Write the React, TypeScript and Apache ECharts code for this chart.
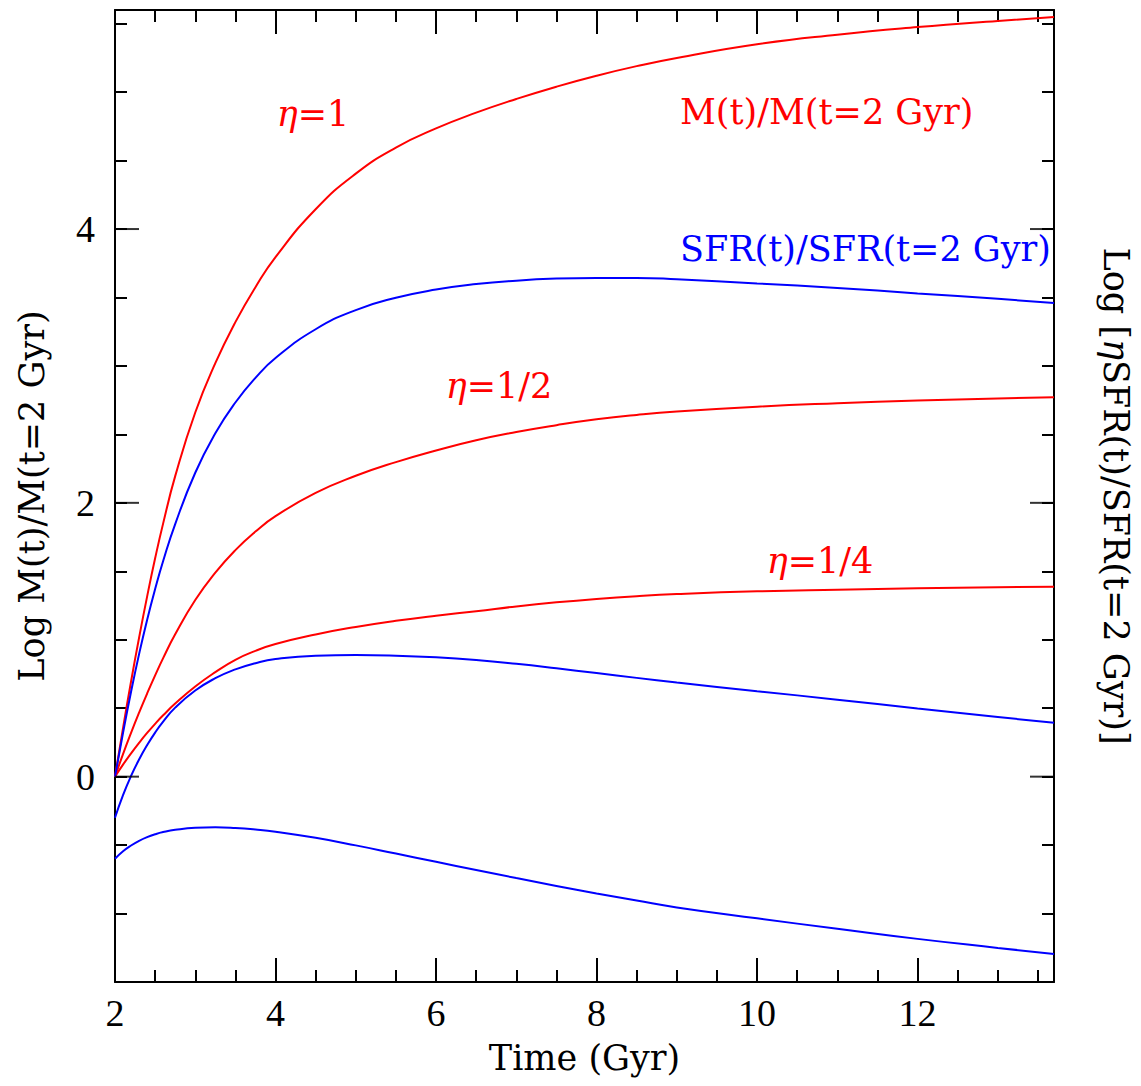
import React, { useEffect, useRef } from "react";
import * as echarts from "echarts";

// Shared time grid (Gyr)
const timeGyr = [2.0, 2.1, 2.2, 2.3, 2.4, 2.5, 2.6, 2.75, 3.0, 3.25, 3.5, 3.75, 4.0, 4.5, 5.0, 5.5, 6.0, 6.5, 7.0, 7.5, 8.0, 8.5, 9.0, 10.0, 11.0, 12.0, 13.0, 13.7];

// Log M(t)/M(t=2 Gyr)
const massEta1 = [0, 0.355, 0.695, 1.015, 1.315, 1.595, 1.85, 2.195, 2.66, 3.02, 3.32, 3.575, 3.795, 4.145, 4.405, 4.595, 4.735, 4.85, 4.95, 5.04, 5.12, 5.19, 5.25, 5.35, 5.42, 5.475, 5.52, 5.548];
const massEta05 = [0, 0.165, 0.32, 0.467, 0.607, 0.74, 0.866, 1.04, 1.29, 1.49, 1.655, 1.79, 1.9025, 2.0725, 2.1975, 2.2975, 2.3825, 2.4575, 2.5175, 2.5675, 2.61, 2.6425, 2.6675, 2.7025, 2.7275, 2.7475, 2.7625, 2.771];
const massEta025 = [0, 0.088, 0.17, 0.247, 0.319, 0.386, 0.448, 0.5335, 0.6585, 0.7635, 0.8535, 0.9185, 0.9685, 1.0385, 1.0935, 1.1385, 1.176, 1.2085, 1.2435, 1.2735, 1.2985, 1.3185, 1.3335, 1.3535, 1.3655, 1.3755, 1.3835, 1.388];

// Log [eta SFR(t)/SFR(t=2 Gyr)]
const sfrEta1 = [0, 0.32, 0.62, 0.895, 1.145, 1.37, 1.575, 1.845, 2.22, 2.508, 2.733, 2.913, 3.058, 3.268, 3.408, 3.498, 3.558, 3.598, 3.623, 3.638, 3.643, 3.643, 3.633, 3.603, 3.57, 3.53, 3.49, 3.46];
const sfrEta05 = [-0.3, -0.135, 0.005, 0.125, 0.23, 0.322, 0.402, 0.504, 0.629, 0.719, 0.784, 0.829, 0.859, 0.884, 0.889, 0.884, 0.8715, 0.8515, 0.824, 0.7915, 0.7565, 0.7215, 0.6875, 0.6245, 0.5625, 0.4975, 0.4355, 0.3935];
const sfrEta025 = [-0.6, -0.545, -0.503, -0.469, -0.442, -0.421, -0.405, -0.3885, -0.3735, -0.37, -0.375, -0.386, -0.402, -0.447, -0.502, -0.562, -0.622, -0.682, -0.741, -0.798, -0.853, -0.905, -0.955, -1.035, -1.111, -1.185, -1.251, -1.296];

// Axis settings
const xMin = 2;
const xMax = 13.7;
const yMin = -1.5;
const yMax = 5.6;
const yMajorTicks = [0, 2, 4];

const RED = "#ff0000";
const BLUE = "#0000ff";
const SERIF = "DejaVu Serif";
const NUMFONT = "Liberation Serif";

const pair = (ys: number[]) => timeGyr.map((t, i) => [t, ys[i]]);

export default function App() {
  const ref = useRef<HTMLDivElement>(null);
  useEffect(() => {
    if (!ref.current) return;
    const chart = echarts.init(ref.current, null, { renderer: "svg" });
    const axisLine = { show: true, onZero: false, lineStyle: { color: "#000", width: 2 } };
    const tickStyle = { color: "#000", width: 2 };
    const xBase = {
      type: "value" as const,
      min: xMin,
      max: xMax,
      splitLine: { show: false },
    };
    const yBase = {
      type: "value" as const,
      min: yMin,
      max: yMax,
      interval: 0.5,
      splitLine: { show: false },
    };
    const line = (name: string, ys: number[], color: string) => ({
      name,
      type: "line",
      data: pair(ys),
      smooth: 0.5,
      showSymbol: false,
      symbol: "none",
      lineStyle: { color, width: 2 },
      itemStyle: { color },
      silent: true,
      z: 3,
    });
    const etaText = (x: number, y: number, rest: string) => ({
      type: "text",
      x,
      y,
      style: {
        text: "{e|η}=" + rest,
        fill: RED,
        fontSize: 35,
        fontFamily: SERIF,
        align: "center",
        verticalAlign: "middle",
        rich: { e: { fontSize: 35, fontFamily: SERIF, fontStyle: "italic", fill: RED } },
      },
    });
    const option: any = {
      animation: false,
      backgroundColor: "#fff",
      grid: { left: 115, top: 10, right: 85, bottom: 104, containLabel: false },
      xAxis: [
        {
          ...xBase,
          position: "bottom",
          interval: 2,
          axisLine,
          axisTick: { show: true, inside: true, length: 24, lineStyle: tickStyle },
          axisLabel: {
            show: true,
            margin: 12,
            fontSize: 38,
            fontFamily: NUMFONT,
            color: "#000",
            formatter: (v: number) => (Math.abs(v % 2) < 1e-9 ? String(v) : ""),
          },
          name: "Time (Gyr)",
          nameLocation: "middle",
          nameGap: 58,
          nameTextStyle: { fontSize: 35, fontFamily: SERIF, color: "#000" },
        },
        {
          ...xBase,
          position: "bottom",
          interval: 0.5,
          axisLine: { show: false, onZero: false },
          axisTick: { show: true, inside: true, length: 12, lineStyle: tickStyle },
          axisLabel: { show: false },
        },
        {
          ...xBase,
          position: "top",
          interval: 2,
          axisLine,
          axisTick: { show: true, inside: true, length: 24, lineStyle: tickStyle },
          axisLabel: { show: false },
        },
        {
          ...xBase,
          position: "top",
          interval: 0.5,
          axisLine: { show: false, onZero: false },
          axisTick: { show: true, inside: true, length: 12, lineStyle: tickStyle },
          axisLabel: { show: false },
        },
      ],
      yAxis: [
        {
          ...yBase,
          position: "left",
          axisLine,
          axisTick: { show: true, inside: true, length: 12, lineStyle: tickStyle },
          axisLabel: {
            show: true,
            margin: 20,
            fontSize: 38,
            fontFamily: NUMFONT,
            color: "#000",
            formatter: (v: number) => (Math.abs(v % 2) < 1e-9 ? String(v) : ""),
          },
          name: "Log M(t)/M(t=2 Gyr)",
          nameLocation: "middle",
          nameRotate: 90,
          nameGap: 66,
          nameTextStyle: { fontSize: 35, fontFamily: SERIF, color: "#000" },
        },
        {
          ...yBase,
          position: "right",
          axisLine,
          axisTick: { show: true, inside: true, length: 12, lineStyle: tickStyle },
          axisLabel: { show: false },
          name: "Log [{e|η}SFR(t)/SFR(t=2 Gyr)]",
          nameLocation: "middle",
          nameRotate: -90,
          nameGap: 44,
          nameTextStyle: {
            fontSize: 35,
            fontFamily: SERIF,
            color: "#000",
            rich: { e: { fontSize: 35, fontFamily: SERIF, fontStyle: "italic", color: "#000" } },
          },
        },
      ],
      series: [
        line("M eta=1", massEta1, RED),
        line("M eta=1/2", massEta05, RED),
        line("M eta=1/4", massEta025, RED),
        line("SFR eta=1", sfrEta1, BLUE),
        line("SFR eta=1/2", sfrEta05, BLUE),
        line("SFR eta=1/4", sfrEta025, BLUE),
        {
          type: "scatter",
          name: "major ticks left",
          data: yMajorTicks.map((v) => [xMin, v]),
          symbol: "rect",
          symbolSize: [24, 2],
          symbolOffset: [12, 0],
          itemStyle: { color: "#000" },
          clip: false,
          silent: true,
          z: 4,
        },
        {
          type: "scatter",
          name: "major ticks right",
          data: yMajorTicks.map((v) => [xMax, v]),
          symbol: "rect",
          symbolSize: [24, 2],
          symbolOffset: [-12, 0],
          itemStyle: { color: "#000" },
          clip: false,
          silent: true,
          z: 4,
        },
      ],
      graphic: [
        etaText(313, 114, "1"),
        etaText(499, 386, "1/2"),
        etaText(820, 561, "1/4"),
        {
          type: "text",
          x: 680,
          y: 112,
          style: {
            text: "M(t)/M(t=2 Gyr)",
            fill: RED,
            fontSize: 35,
            fontFamily: SERIF,
            align: "left",
            verticalAlign: "middle",
          },
        },
        {
          type: "text",
          x: 680,
          y: 249,
          style: {
            text: "SFR(t)/SFR(t=2 Gyr)",
            fill: BLUE,
            fontSize: 35,
            fontFamily: SERIF,
            align: "left",
            verticalAlign: "middle",
          },
        },
      ],
    };
    chart.setOption(option);
    return () => chart.dispose();
  }, []);
  return (
    <div
      ref={ref}
      style={{ position: "absolute", left: 0, top: 0, width: 1141, height: 1086, background: "#fff" }}
    />
  );
}
